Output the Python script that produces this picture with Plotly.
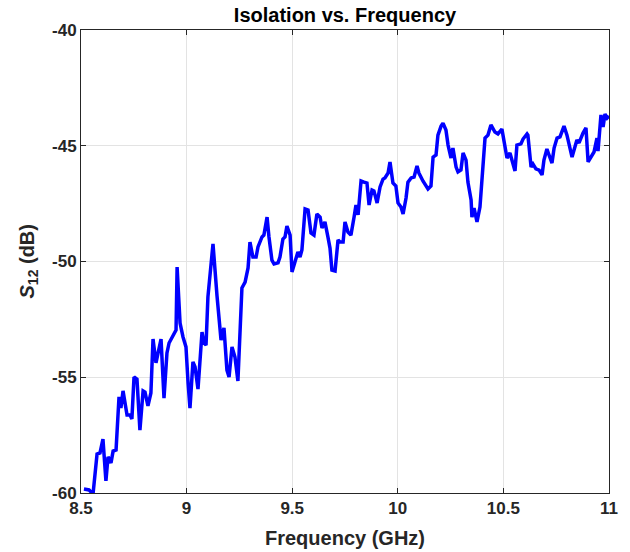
import plotly.graph_objects as go

freq_ghz = [8.514, 8.538, 8.557, 8.576, 8.590, 8.604, 8.618, 8.628, 8.642, 8.652,
            8.666, 8.680, 8.689, 8.699, 8.718, 8.732, 8.741, 8.751, 8.765, 8.779,
            8.794, 8.803, 8.817, 8.831, 8.841, 8.855, 8.865, 8.879, 8.893, 8.907,
            8.917, 8.936, 8.950, 8.955, 8.969, 8.983, 8.997, 9.007, 9.016, 9.030,
            9.040, 9.054, 9.063, 9.073, 9.082, 9.092, 9.101, 9.125, 9.144, 9.163,
            9.177, 9.191, 9.201, 9.215, 9.229, 9.243, 9.262, 9.277, 9.291, 9.300,
            9.314, 9.329, 9.338, 9.357, 9.366, 9.381, 9.390, 9.404, 9.414, 9.433,
            9.442, 9.456, 9.466, 9.475, 9.490, 9.499, 9.513, 9.527, 9.537, 9.546,
            9.561, 9.575, 9.589, 9.603, 9.617, 9.632, 9.641, 9.655, 9.670, 9.679,
            9.688, 9.703, 9.717, 9.726, 9.741, 9.750, 9.764, 9.778, 9.793, 9.802,
            9.812, 9.826, 9.840, 9.854, 9.864, 9.878, 9.887, 9.902, 9.916, 9.930,
            9.939, 9.954, 9.963, 9.977, 9.991, 10.001, 10.015, 10.025, 10.039, 10.048,
            10.063, 10.077, 10.091, 10.100, 10.119, 10.129, 10.143, 10.157, 10.167, 10.181,
            10.190, 10.205, 10.214, 10.228, 10.238, 10.252, 10.261, 10.276, 10.285, 10.299,
            10.309, 10.323, 10.332, 10.347, 10.351, 10.361, 10.375, 10.389, 10.403, 10.413,
            10.427, 10.441, 10.460, 10.474, 10.493, 10.503, 10.517, 10.531, 10.541, 10.555,
            10.564, 10.583, 10.593, 10.612, 10.616, 10.631, 10.640, 10.654, 10.669, 10.683,
            10.692, 10.706, 10.716, 10.730, 10.740, 10.754, 10.768, 10.787, 10.801, 10.815,
            10.825, 10.848, 10.858, 10.877, 10.891, 10.901, 10.920, 10.929, 10.943, 10.948,
            10.962, 10.972, 10.981, 10.991, 11.000]

s12_db = [-59.83, -59.87, -60.04, -58.32, -58.27, -57.67, -59.48, -58.44, -58.70, -58.19,
          -58.14, -55.85, -56.33, -55.59, -56.63, -56.63, -56.80, -54.99, -55.08, -57.28,
          -55.59, -55.64, -56.24, -55.68, -53.35, -54.38, -53.95, -53.35, -55.90, -53.95,
          -53.52, -53.22, -52.96, -50.24, -52.66, -53.26, -53.69, -55.25, -56.33, -54.34,
          -54.56, -55.51, -54.34, -53.05, -53.52, -53.61, -51.53, -49.24, -51.49, -53.39,
          -52.87, -54.69, -54.99, -53.69, -54.13, -55.16, -51.14, -50.89, -50.28, -49.16,
          -49.81, -49.81, -49.37, -48.94, -48.86, -48.08, -48.94, -49.94, -50.11, -50.06,
          -49.81, -49.03, -48.94, -48.47, -48.86, -50.45, -50.02, -49.59, -49.81, -49.50,
          -47.73, -47.78, -48.77, -48.86, -47.95, -48.08, -48.55, -48.29, -48.98, -49.42,
          -50.37, -50.41, -49.07, -49.16, -49.16, -48.29, -48.73, -48.86, -48.08, -47.56,
          -47.99, -46.52, -46.57, -46.61, -47.56, -46.91, -46.95, -47.47, -46.78, -46.44,
          -46.39, -46.18, -45.70, -46.61, -46.74, -47.47, -47.65, -47.95, -47.26, -46.57,
          -46.39, -46.35, -45.87, -46.18, -46.52, -46.70, -46.87, -46.74, -45.49, -45.40,
          -44.54, -44.15, -44.02, -44.32, -44.97, -45.53, -45.10, -45.92, -46.13, -46.05,
          -45.31, -45.62, -46.57, -47.34, -48.08, -47.69, -48.29, -47.65, -46.05, -44.67,
          -44.54, -44.10, -44.41, -44.49, -44.28, -44.88, -45.53, -45.31, -45.62, -46.09,
          -44.97, -44.92, -44.71, -44.49, -44.54, -45.92, -45.79, -46.00, -46.05, -46.26,
          -45.62, -45.14, -45.40, -45.75, -45.10, -44.67, -44.62, -44.15, -44.54, -45.18,
          -45.49, -44.75, -44.88, -44.45, -44.23, -45.70, -45.40, -45.27, -44.67, -45.23,
          -43.67, -44.19, -43.63, -43.80, -43.71]

x_ticks = [8.5, 9, 9.5, 10, 10.5, 11]
x_tick_labels = ["8.5", "9", "9.5", "10", "10.5", "11"]
y_ticks = [-60, -55, -50, -45, -40]
y_tick_labels = ["-60", "-55", "-50", "-45", "-40"]

axis_color = "#262626"
font_family = "Liberation Sans, Arial, Helvetica, sans-serif"

fig = go.Figure()
fig.add_trace(go.Scatter(
    x=freq_ghz, y=s12_db, mode="lines",
    line=dict(color="#0000ff", width=3.5),
    showlegend=False,
))

common_axis = dict(
    showline=True, linecolor=axis_color, linewidth=1, mirror="ticks",
    ticks="inside", ticklen=5, tickcolor=axis_color, tickwidth=1,
    showgrid=True, gridcolor="#e3e3e3", gridwidth=1, zeroline=False,
    tickfont=dict(family=font_family, size=17, color=axis_color, weight="bold"),
    automargin=False,
)

plot_h = 552 - 30 - 59

fig.update_layout(
    width=630, height=552,
    margin=dict(l=81, r=21, t=30, b=59),
    paper_bgcolor="white", plot_bgcolor="white",
    title=dict(
        text="<b>Isolation vs. Frequency</b>",
        x=(81 + 609) / 2 / 630, xanchor="center",
        y=1 - 15 / 552, yanchor="middle",
        font=dict(family=font_family, size=20, color="black"),
    ),
    xaxis=dict(range=[8.5, 11], tickvals=x_ticks, ticktext=x_tick_labels, **common_axis),
    yaxis=dict(range=[-60, -40], tickvals=y_ticks, ticktext=y_tick_labels, **common_axis),
    annotations=[
        dict(text="<b>Frequency (GHz)</b>", xref="paper", yref="paper",
             x=0.5, y=-(538 - 493) / plot_h, xanchor="center", yanchor="middle",
             showarrow=False, font=dict(family=font_family, size=20, color=axis_color)),
        dict(text="<b><i>S</i><sub>12</sub> (dB)</b>", xref="paper", yref="paper",
             x=-(81 - 28) / 528, y=0.5, xanchor="center", yanchor="middle",
             textangle=-90, showarrow=False,
             font=dict(family=font_family, size=20, color=axis_color)),
    ],
)

fig.write_html("out.html")
